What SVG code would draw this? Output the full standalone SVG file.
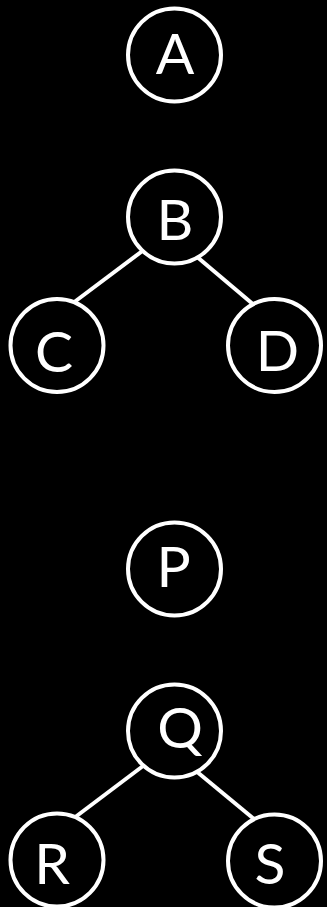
<svg xmlns="http://www.w3.org/2000/svg" width="327" height="907" viewBox="0 0 327 907">
<style>
.bg{fill:#000}
.node circle{fill:#000;stroke:#fff;stroke-width:4}
.node text{fill:#fff;font-family:Lato,"Open Sans","Liberation Sans",sans-serif;font-size:57px;font-weight:400;text-anchor:middle}
.edges line{stroke:#fff;stroke-width:4}
</style>
<rect class="bg" x="0" y="0" width="327" height="907"/>
<g class="edges" id="edges">
<line x1="145" y1="249" x2="73" y2="303"/>
<line x1="196" y1="256" x2="254" y2="305"/>
<line x1="143" y1="766" x2="74" y2="818"/>
<line x1="196" y1="771" x2="254" y2="819"/>
</g>
<g class="node" id="A"><circle cx="174.5" cy="55" r="46.5"/><text x="175" y="74">A</text></g>
<g class="node" id="B"><circle cx="174.5" cy="217" r="46.5"/><text x="175" y="240">B</text></g>
<g class="node" id="C"><circle cx="57" cy="345.5" r="46.5"/><text x="54" y="371.5">C</text></g>
<g class="node" id="D"><circle cx="274.5" cy="345.5" r="46.5"/><text x="277.5" y="371">D</text></g>
<g class="node" id="P"><circle cx="174.5" cy="569" r="46.5"/><text x="173.5" y="586.5">P</text></g>
<g class="node" id="Q"><circle cx="174.5" cy="731" r="46.5"/><text x="180" y="748">Q</text></g>
<g class="node" id="R"><circle cx="57" cy="860" r="46.5"/><text x="52" y="884">R</text></g>
<g class="node" id="S"><circle cx="274.5" cy="861" r="46.5"/><text x="270" y="884">S</text></g>
</svg>
